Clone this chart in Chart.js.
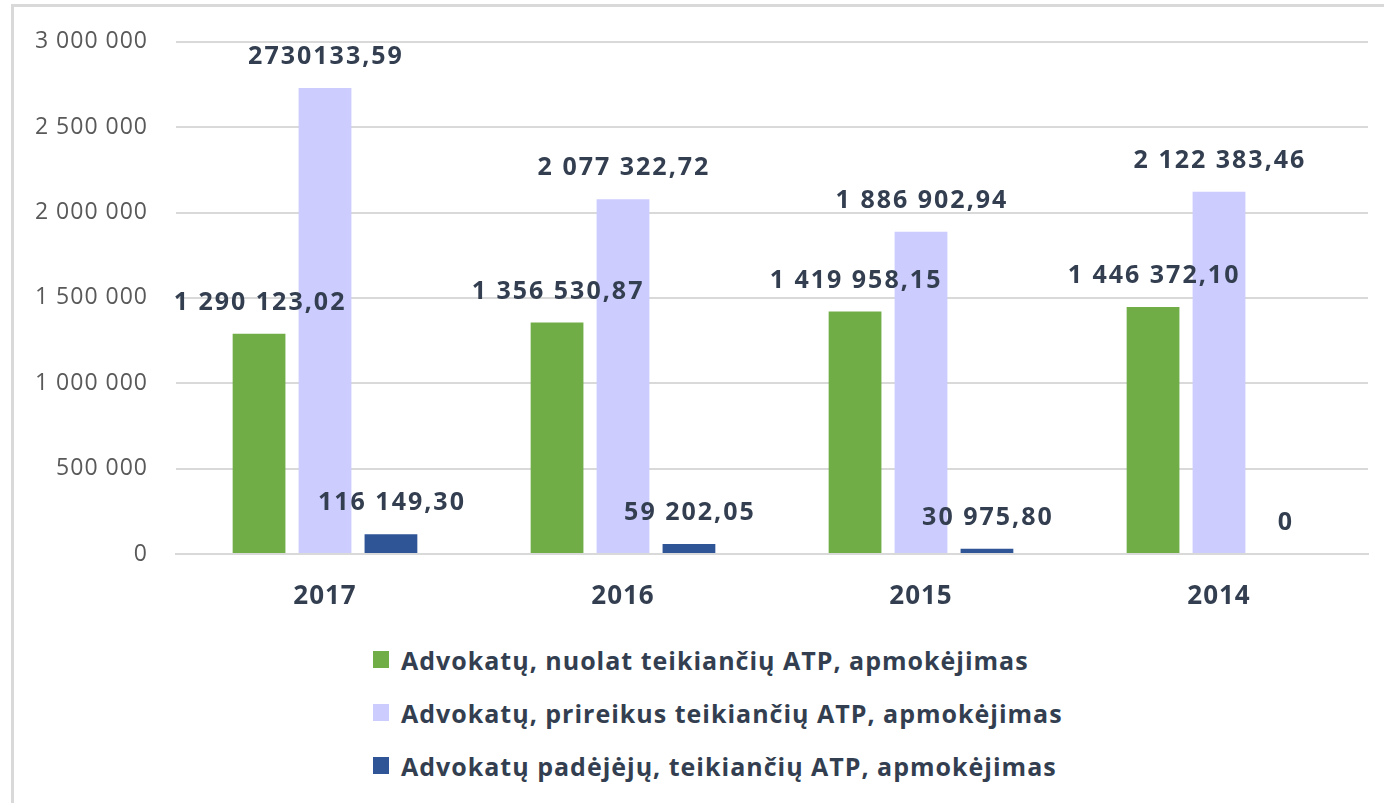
<!DOCTYPE html>
<html>
<head>
<meta charset="utf-8">
<script src="https://cdn.jsdelivr.net/npm/chart.js@4/dist/chart.umd.min.js"></script>
<style>
  body { margin: 0; background: #fff; font-family: "Open Sans", sans-serif; }
  #frame { position: absolute; left: 11px; top: 4px; width: 1380px; height: 810px;
           border-left: 3px solid #d9d9d9; border-top: 3px solid #d9d9d9; }
  #wrap { position: absolute; left: 0; top: 0; width: 1384px; height: 624px; }
  #legend { position: absolute; left: 373px; top: 633px; }
  .item { display: flex; align-items: center; height: 53px; font-weight: bold;
          font-size: 25px; letter-spacing: 1px; color: #333f50; }
  .box { width: 16px; height: 17px; margin-right: 12px; }
</style>
</head>
<body>
<div id="frame"></div>
<div id="wrap"><canvas id="chart"></canvas></div>
<div id="legend"></div>
<script>
// --- Data ---
const years = ['2017', '2016', '2015', '2014'];
const seriesNames = [
  'Advokatų, nuolat teikiančių ATP, apmokėjimas',
  'Advokatų, prireikus teikiančių ATP, apmokėjimas',
  'Advokatų padėjėjų, teikiančių ATP, apmokėjimas'
];
const nuolat = [1290123.02, 1356530.87, 1419958.15, 1446372.10];
const prireikus = [2730133.59, 2077322.72, 1886902.94, 2122383.46];
const padejeju = [116149.30, 59202.05, 30975.80, 0];
// labels as printed on the chart
const nuolatText = ['1 290 123,02', '1 356 530,87', '1 419 958,15', '1 446 372,10'];
const prireikusText = ['2730133,59', '2 077 322,72', '1 886 902,94', '2 122 383,46'];
const padejejuText = ['116 149,30', '59 202,05', '30 975,80', '0'];
const yTicks = [0, 500000, 1000000, 1500000, 2000000, 2500000, 3000000];

const colors = ['#70ad47', '#ccccff', '#2f5597'];
const textColor = '#333f50';

function fmt(v) {
  return String(v).replace(/\B(?=(\d{3})+(?!\d))/g, ' ');
}

// wider letters for the axis text, reset before the bars
const spacing = {
  id: 'spacing',
  beforeDraw(chart) { chart.ctx.letterSpacing = '1px'; },
  beforeDatasetsDraw(chart) { chart.ctx.letterSpacing = '0px'; }
};

// value labels above bars
const valueLabels = {
  id: 'valueLabels',
  afterDatasetsDraw(chart) {
    const ctx = chart.ctx;
    ctx.save();
    ctx.font = 'bold 25px "Open Sans"';
    ctx.letterSpacing = '2px';
    ctx.fillStyle = textColor;
    ctx.textAlign = 'center';
    ctx.textBaseline = 'middle';
    chart.data.datasets.forEach((ds, i) => {
      chart.getDatasetMeta(i).data.forEach((bar, j) => {
        ctx.fillText(ds.labelText[j], bar.x + 1, bar.y - 31);
      });
    });
    ctx.restore();
  }
};

const datasets = [
  { label: seriesNames[0], data: nuolat, labelText: nuolatText, backgroundColor: colors[0] },
  { label: seriesNames[1], data: prireikus, labelText: prireikusText, backgroundColor: colors[1] },
  { label: seriesNames[2], data: padejeju, labelText: padejejuText, backgroundColor: colors[2] }
];

new Chart(document.getElementById('chart'), {
  type: 'bar',
  data: { labels: years, datasets: datasets },
  options: {
    responsive: true,
    maintainAspectRatio: false,
    animation: false,
    layout: { padding: { top: 35, right: 16, left: 0, bottom: 0 } },
    datasets: { bar: { categoryPercentage: 0.664, barPercentage: 0.8 } },
    plugins: { legend: { display: false }, tooltip: { enabled: false } },
    scales: {
      x: {
        grid: { display: false },
        border: { color: '#d9d9d9', width: 2 },
        ticks: { color: textColor, font: { family: 'Open Sans', size: 26, weight: 'bold' }, padding: 19 },
        afterFit(scale) { scale.height = 70; }
      },
      y: {
        min: 0,
        max: 3000000,
        afterBuildTicks(scale) { scale.ticks = yTicks.map(v => ({ value: v })); },
        grid: { color: '#d9d9d9', lineWidth: 2, drawTicks: false },
        border: { display: false },
        ticks: {
          color: '#595959',
          font: { family: 'Open Sans', size: 23 },
          padding: 28,
          callback: v => fmt(v)
        },
        afterFit(scale) { scale.width = 176; }
      }
    }
  },
  plugins: [spacing, valueLabels]
});

// legend, one entry per row
const legend = document.getElementById('legend');
seriesNames.forEach((name, i) => {
  const row = document.createElement('div');
  row.className = 'item';
  row.innerHTML = `<span class="box" style="background:${colors[i]}"></span><span>${name}</span>`;
  legend.appendChild(row);
});
</script>
</body>
</html>
